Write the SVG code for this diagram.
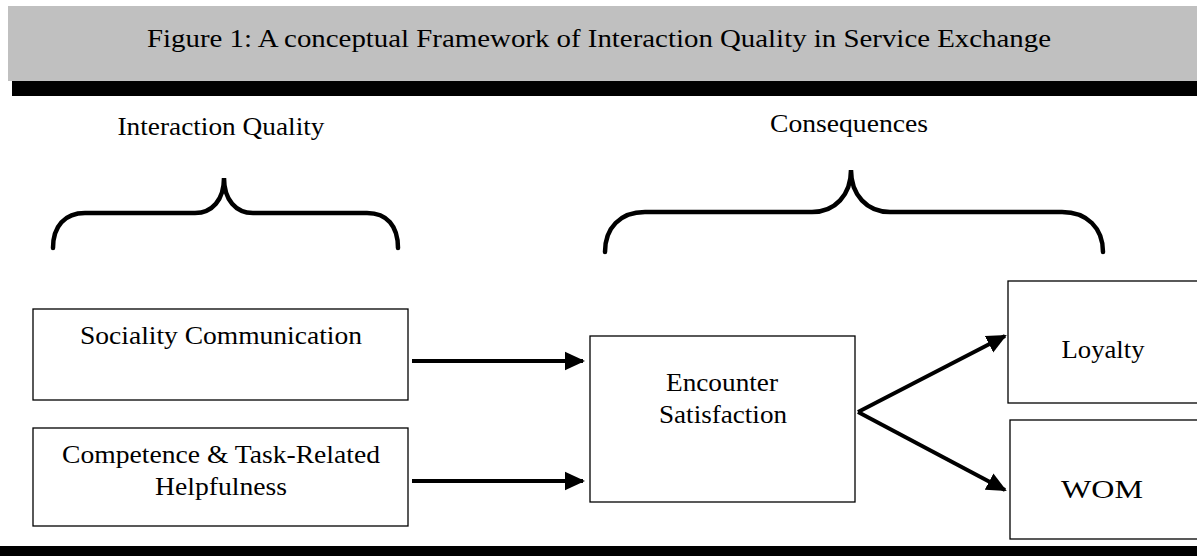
<svg xmlns="http://www.w3.org/2000/svg" width="1197" height="556" viewBox="0 0 1197 556">
<style>
text{font-family:"Liberation Serif","Times New Roman",serif;fill:#000;text-anchor:middle}
.t{font-size:26px}
.box{fill:#fff;stroke:#000;stroke-width:1.3}
.brace{fill:none;stroke:#000;stroke-width:4.5;stroke-linecap:round}
.arr{fill:none;stroke:#000;stroke-width:4;marker-end:url(#ah)}
</style>
<defs>
<marker id="ah" markerWidth="5" markerHeight="5" refX="4.5" refY="2.5" orient="auto" markerUnits="strokeWidth">
<path d="M0,0.2 L5,2.5 L0,4.8 Z" fill="#000"/>
</marker>
</defs>
<rect width="1197" height="556" fill="#fff"/>
<g id="header">
<rect x="8" y="6" width="1189" height="75" fill="#c0c0c0"/>
<rect x="12" y="81" width="1185" height="15" fill="#000"/>
<text class="t" x="599" y="47" textLength="904" lengthAdjust="spacingAndGlyphs">Figure 1: A conceptual Framework of Interaction Quality in Service Exchange</text>
</g>
<g id="interaction-quality">
<text class="t" x="221" y="135" textLength="207" lengthAdjust="spacingAndGlyphs">Interaction Quality</text>
<path class="brace" d="M53,248 C53,226 65,213 85,213 L195,213 C212,213 224,200 224,178 C224,200 236,213 253,213 L367,213 C387,213 398,226 398,248"/>
</g>
<g id="consequences">
<text class="t" x="849" y="132" textLength="158" lengthAdjust="spacingAndGlyphs">Consequences</text>
<path class="brace" d="M605,252 C605,228 620,212 645,212 L812,212 C835,212 851,195 851,170 C851,195 867,212 890,212 L1062,212 C1087,212 1103,228 1103,252"/>
</g>
<g id="sociality">
<rect class="box" x="33" y="309" width="375" height="91"/>
<text class="t" x="221" y="344" textLength="282" lengthAdjust="spacingAndGlyphs">Sociality Communication</text>
</g>
<g id="competence">
<rect class="box" x="33" y="428" width="375" height="98"/>
<text class="t" x="221" y="463" textLength="318" lengthAdjust="spacingAndGlyphs">Competence &amp; Task-Related</text>
<text class="t" x="221" y="495" textLength="132" lengthAdjust="spacingAndGlyphs">Helpfulness</text>
</g>
<g id="encounter">
<rect class="box" x="590" y="336" width="265" height="166"/>
<text class="t" x="722" y="391" textLength="112" lengthAdjust="spacingAndGlyphs">Encounter</text>
<text class="t" x="723" y="423" textLength="128" lengthAdjust="spacingAndGlyphs">Satisfaction</text>
</g>
<g id="loyalty">
<rect class="box" x="1008" y="281" width="195" height="122"/>
<text class="t" x="1103" y="358" textLength="83" lengthAdjust="spacingAndGlyphs">Loyalty</text>
</g>
<g id="wom">
<rect class="box" x="1010" y="420" width="193" height="119"/>
<text class="t" x="1102" y="498" textLength="82" lengthAdjust="spacingAndGlyphs">WOM</text>
</g>
<g id="connectors">
<line class="arr" x1="412" y1="361" x2="583" y2="361"/>
<line class="arr" x1="412" y1="481" x2="583" y2="481"/>
<line class="arr" x1="858" y1="412" x2="1005" y2="336"/>
<line class="arr" x1="858" y1="412" x2="1005" y2="490"/>
</g>
<rect id="footer" x="0" y="546" width="1197" height="10" fill="#000"/>
</svg>
